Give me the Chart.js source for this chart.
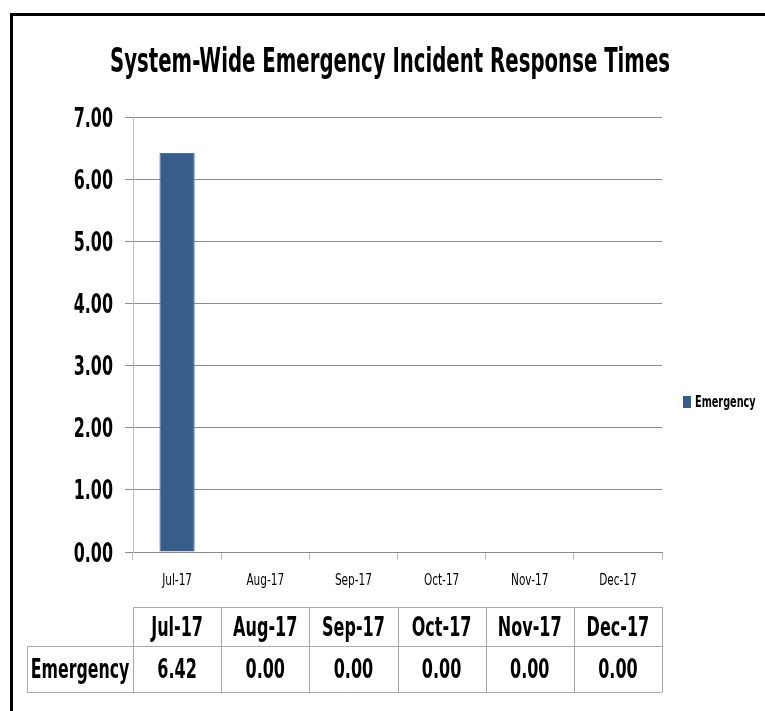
<!DOCTYPE html>
<html>
<head>
<meta charset="utf-8">
<script src="https://cdn.jsdelivr.net/npm/chart.js@4"></script>
<style>
  html, body { margin: 0; padding: 0; background: #fff; }
  #wrap { width: 765px; height: 711px; }
</style>
</head>
<body>
<div id="wrap"><canvas id="chart" width="765" height="711"></canvas></div>
<script>
// data
const titleText = 'System-Wide Emergency Incident Response Times';
const months = ['Jul-17', 'Aug-17', 'Sep-17', 'Oct-17', 'Nov-17', 'Dec-17'];
const seriesName = 'Emergency';
const emergency = [6.42, 0, 0, 0, 0, 0];
const yTicks = [0, 1, 2, 3, 4, 5, 6, 7];

const FONT = "'DejaVu Sans Condensed', 'DejaVu Sans', sans-serif";
const barColor = '#385d8a';

// narrow text, the original uses Calibri which is not installed
function narrowText(ctx, text, x, y, size, weight, align, squeeze) {
  ctx.save();
  ctx.font = weight + ' ' + size + 'px ' + FONT;
  ctx.textBaseline = 'alphabetic';
  const w = ctx.measureText(text).width * squeeze;
  let left = x;
  if (align === 'center') left = x - w / 2;
  else if (align === 'right') left = x - w;
  ctx.translate(left, y);
  ctx.scale(squeeze, 1);
  ctx.textAlign = 'left';
  ctx.fillText(text, 0, 0);
  ctx.restore();
}

// title, tick labels, legend, data table and frame
const extras = {
  id: 'extras',
  afterDraw(chart) {
    const ctx = chart.ctx;
    const x = chart.scales.x;
    const y = chart.scales.y;
    const area = chart.chartArea;
    ctx.save();

    // frame
    ctx.strokeStyle = '#000';
    ctx.lineWidth = 3;
    ctx.beginPath();
    ctx.moveTo(11.5, 711);
    ctx.lineTo(11.5, 14.5);
    ctx.lineTo(765, 14.5);
    ctx.stroke();

    ctx.fillStyle = '#000';

    // title
    narrowText(ctx, titleText, 390, 72, 34, 'bold', 'center', 0.645);

    // y labels
    y.ticks.forEach(function(t) {
      const py = y.getPixelForValue(t.value);
      narrowText(ctx, t.value.toFixed(2), 113, py + 9.5, 26, 'bold', 'right', 0.68);
    });

    // x labels
    months.forEach(function(m, i) {
      narrowText(ctx, m, x.getPixelForValue(i), 585, 15, 'normal', 'center', 0.78);
    });

    // legend
    ctx.fillStyle = barColor;
    ctx.fillRect(683, 396, 8, 12);
    ctx.fillStyle = '#000';
    narrowText(ctx, seriesName, 695, 407, 15, 'bold', 'left', 0.72);

    // table
    const step = (area.right - area.left) / months.length;
    const r0 = 607, r1 = 646, r2 = 692, labelLeft = 27;
    ctx.strokeStyle = '#aaaaaa';
    ctx.lineWidth = 1;
    ctx.beginPath();
    ctx.moveTo(area.left, r0 + 0.5); ctx.lineTo(area.right, r0 + 0.5);
    ctx.moveTo(labelLeft, r1 + 0.5); ctx.lineTo(area.right, r1 + 0.5);
    ctx.moveTo(labelLeft, r2 + 0.5); ctx.lineTo(area.right, r2 + 0.5);
    ctx.moveTo(labelLeft + 0.5, r1); ctx.lineTo(labelLeft + 0.5, r2);
    for (let i = 0; i <= months.length; i++) {
      const px = Math.round(area.left + i * step) + 0.5;
      ctx.moveTo(px, r0); ctx.lineTo(px, r2);
    }
    ctx.stroke();

    months.forEach(function(m, i) {
      const cx = x.getPixelForValue(i);
      narrowText(ctx, m, cx, 636, 27, 'bold', 'center', 0.66);
      narrowText(ctx, emergency[i].toFixed(2), cx, 678, 27, 'bold', 'center', 0.66);
    });
    narrowText(ctx, seriesName, (labelLeft + area.left) / 2, 678, 27, 'bold', 'center', 0.65);
    ctx.restore();
  }
};

const data = {
  labels: months,
  datasets: [{
    label: seriesName,
    data: emergency,
    backgroundColor: barColor,
    borderColor: '#4a71a3',
    borderWidth: 1,
    categoryPercentage: 1,
    barPercentage: 0.4
  }]
};

const config = {
  type: 'bar',
  data: data,
  options: {
    responsive: false,
    animation: false,
    layout: {
      padding: { left: 0, right: 103, top: 117, bottom: 104 }
    },
    scales: {
      x: {
        afterFit: function(scale) { scale.height = 55; },
        grid: {
          drawOnChartArea: false,
          drawTicks: true,
          tickLength: 8,
          color: '#bbbbbb'
        },
        border: { color: '#888888' },
        ticks: { display: false }
      },
      y: {
        min: 0,
        max: 7,
        afterFit: function(scale) { scale.width = 133; },
        afterBuildTicks: function(scale) {
          scale.ticks = yTicks.map(function(v) { return { value: v }; });
        },
        grid: {
          color: '#8c8c8c',
          tickLength: 8
        },
        border: { color: '#bbbbbb' },
        ticks: { display: false }
      }
    },
    plugins: {
      legend: { display: false },
      title: { display: false },
      tooltip: { enabled: false }
    }
  },
  plugins: [extras]
};

let ctx = document.getElementById('chart').getContext('2d');
let chart = new Chart(ctx, config);
</script>
</body>
</html>
